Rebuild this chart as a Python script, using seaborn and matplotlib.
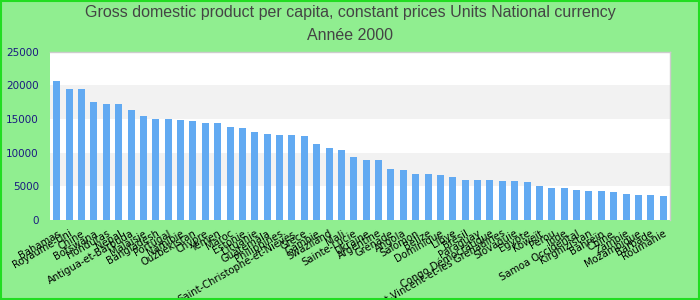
import matplotlib
matplotlib.use("Agg")
import matplotlib.pyplot as plt
import seaborn as sns
import pandas as pd
from matplotlib.patches import Rectangle

countries = ["Bahamas", "Royaume-Uni", "Chine", "Botswana", "Honduras", "Népal",
             "Antigua-et-Barbuda", "Malaisie", "Bangladesh", "Portugal", "Namibie",
             "Ouzbékistan", "Chypre", "Yémen", "Maroc", "Estonie", "Lituanie",
             "Guatemala", "Philippines", "Saint-Christophe-et-Niévès", "Grèce",
             "Gambie", "Swaziland", "Mali", "Sainte-Lucie", "Ukraine", "Argentine",
             "Grenade", "Angola", "Salomon", "Belize", "Dominique", "Libye", "Brésil",
             "Paraguay", "Congo Démocratique", "Saint-Vincent-et-les Grenadines",
             "Slovaquie", "Egypte", "Koweït", "Pérou", "Inde", "Samoa Occidental",
             "Kirghizistan", "Bahreïn", "Chine ", "Zambie", "Mozambique", "Barbade",
             "Roumanie"]
values = [20650, 19480, 19480, 17550, 17250, 17250, 16350, 15460, 15010, 15010,
          14860, 14710, 14410, 14410, 13820, 13670, 13070, 12770, 12620, 12620,
          12475, 11280, 10690, 10390, 9340, 8900, 8900, 7550, 7400, 6810,
          6810, 6660, 6360, 5910, 5910, 5910, 5765, 5765, 5615, 5020,
          4720, 4720, 4420, 4270, 4270, 4125, 3830, 3680, 3680, 3530]
yticks = [0, 5000, 10000, 15000, 20000, 25000]
title1 = "Gross domestic product per capita, constant prices Units National currency"
title2 = "Année 2000"

df = pd.DataFrame({"country": countries, "value": values})

fig = plt.figure(figsize=(7, 3), dpi=100)
fig.patch.set_facecolor("#90EE90")
ax = fig.add_axes([50/700, 1-220/300, 620/700, (220-51.7)/300])
ax.set_facecolor("white")

for lo in (5000, 15000):
    ax.axhspan(lo, lo + 5000, color="#f2f2f2", zorder=0, lw=0)

sns.barplot(data=df, x="country", y="value", color="#62aaf2", width=0.56,
            saturation=1, ax=ax, zorder=2)

ax.set_ylim(0, 25000)
ax.set_xlim(-0.55, len(values) - 0.45)
ax.set_yticks(yticks)
ax.set_yticklabels([str(v) for v in yticks], color="#1a1a80", fontsize=7.5,
                   family="DejaVu Sans")
ax.set_xticks(range(len(countries)))
ax.set_xticklabels(countries, rotation=30, ha="right", rotation_mode="anchor",
                   fontsize=7.2, color="black", family="DejaVu Sans")
ax.tick_params(axis="y", length=0, pad=8)
ax.tick_params(axis="x", length=0, pad=6)
ax.set_xlabel("")
ax.set_ylabel("")
for s in ["left", "bottom"]:
    ax.spines[s].set_visible(False)
for s in ["top", "right"]:
    ax.spines[s].set_color("#cccccc")
    ax.spines[s].set_linewidth(1)

fig.text(0.5, 1-12/300, title1, ha="center", va="center", fontsize=11.5,
         color="#444444", family="Liberation Sans")
fig.text(0.5, 1-36/300, title2, ha="center", va="center", fontsize=11.5,
         color="#444444", family="Liberation Sans")

fig.patches.append(Rectangle((0.001, 0.002), 0.998, 0.996, transform=fig.transFigure,
                             fill=False, edgecolor="#22dd22", lw=1.5, zorder=10))

fig.savefig("out.png", dpi=100, facecolor=fig.get_facecolor())
